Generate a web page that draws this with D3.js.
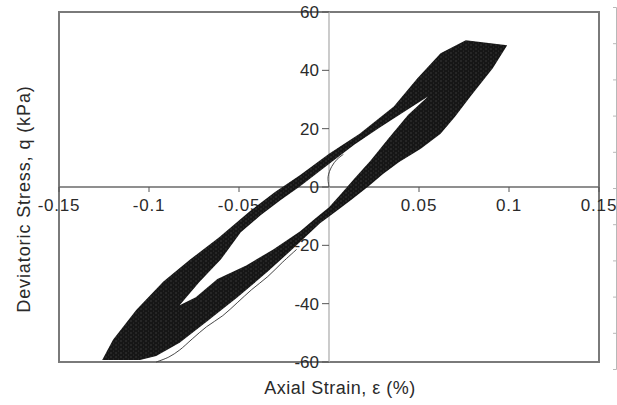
<!DOCTYPE html>
<html>
<head>
  <meta charset="UTF-8">
  <script src="https://d3js.org/d3.v7.min.js"></script>
  <style>
    body { margin: 0; background: #fff; }
    svg { display: block; }
    text { font-family: "Liberation Sans", Arial, sans-serif; fill: #2a2a2a; }
  </style>
</head>
<body>
  <svg width="617" height="405"></svg>
  <script>
    // tick values and labels
    const xTicks = [-0.15, -0.1, -0.05, 0.05, 0.1, 0.15];
    const xTickLabels = ["-0.15", "-0.1", "-0.05", "0.05", "0.1", "0.15"];
    const yTicks = [-60, -40, -20, 0, 20, 40, 60];
    const yTickLabels = ["-60", "-40", "-20", "0", "20", "40", "60"];

    // outer envelope of all cycles [strain %, q kPa]
    const envelopeOuter = [
      [-0.126, -59.3], [-0.120, -52.4], [-0.107, -42.1], [-0.092, -32.4],
      [-0.077, -24.8], [-0.061, -17.2], [-0.044, -8.3], [-0.030, -1.7],
      [-0.016, 4.1], [0.0, 11.4], [0.017, 18.3], [0.036, 27.6],
      [0.049, 37.2], [0.062, 45.9], [0.076, 50.3], [0.099, 48.6],
      [0.091, 40.7], [0.079, 31.4], [0.070, 24.1], [0.062, 18.3],
      [0.051, 13.1], [0.039, 8.6], [0.030, 4.5], [0.022, 0.3],
      [0.013, -4.1], [0.004, -8.3], [-0.005, -12.4], [-0.018, -20.0],
      [-0.034, -29.0], [-0.051, -37.9], [-0.068, -46.2], [-0.083, -53.4],
      [-0.096, -57.9], [-0.105, -59.3]
    ];

    // white lens inside the loops (unloading inner edge, then loading inner edge)
    const envelopeHole = [
      [0.055, 31.0], [0.042, 25.9], [0.028, 20.3], [0.014, 14.5],
      [0.0, 7.9], [-0.016, 0.3], [-0.027, -4.5], [-0.038, -9.7],
      [-0.049, -15.5], [-0.060, -24.8], [-0.072, -32.6], [-0.083, -40.5],
      [-0.074, -37.8], [-0.062, -31.5], [-0.046, -26.9], [-0.031, -21.4],
      [-0.016, -15.2], [-0.008, -11.0], [0.0, -6.9], [0.007, -2.1],
      [0.014, 2.8], [0.023, 9.0], [0.033, 16.6], [0.044, 24.8]
    ];

    // first loading from rest
    const firstLoading = [
      [0.0, 0.0], [-0.0005, 3.5], [0.0015, 7.0], [0.0045, 9.5], [0.008, 11.2]
    ];

    // first cycle reloading branch, just outside the band
    const firstReload = [
      [-0.018, -21.4], [-0.026, -25.9], [-0.034, -30.7], [-0.043, -35.2],
      [-0.051, -39.7], [-0.059, -44.1], [-0.068, -47.9], [-0.076, -52.1],
      [-0.083, -55.9], [-0.089, -58.3], [-0.096, -60.0]
    ];

    const svg = d3.select("svg");

    const x = d3.scaleLinear().domain([-0.15, 0.15]).range([59, 599]);
    const y = d3.scaleLinear().domain([-60, 60]).range([362, 12]);

    // speckle texture for the overlapping loops
    const defs = svg.append("defs");
    const pat = defs.append("pattern")
      .attr("id", "speckle").attr("patternUnits", "userSpaceOnUse")
      .attr("width", 5).attr("height", 4);
    pat.append("rect").attr("width", 5).attr("height", 4).attr("fill", "#141414");
    pat.append("circle").attr("cx", 1).attr("cy", 1).attr("r", 0.7)
      .attr("fill", "#fff").attr("opacity", 0.22);
    pat.append("circle").attr("cx", 3.5).attr("cy", 3).attr("r", 0.6)
      .attr("fill", "#fff").attr("opacity", 0.15);
    defs.append("filter").attr("id", "soft")
      .append("feGaussianBlur").attr("stdDeviation", 0.45);

    // plot frame
    svg.append("rect")
      .attr("x", x(-0.15)).attr("y", y(60))
      .attr("width", x(0.15) - x(-0.15)).attr("height", y(-60) - y(60))
      .attr("fill", "none").attr("stroke", "#7a7a7a").attr("stroke-width", 2);

    // axes through origin
    svg.append("line")
      .attr("x1", x(-0.15)).attr("x2", x(0.15))
      .attr("y1", y(0)).attr("y2", y(0))
      .attr("stroke", "#6a6a6a").attr("stroke-width", 1.3);
    svg.append("line")
      .attr("x1", x(0)).attr("x2", x(0))
      .attr("y1", y(60)).attr("y2", y(-60))
      .attr("stroke", "#b0b0b0").attr("stroke-width", 1.3);

    // x ticks + labels
    svg.selectAll(".xt").data(xTicks).enter().append("line")
      .attr("x1", d => x(d)).attr("x2", d => x(d))
      .attr("y1", y(0)).attr("y2", y(0) + 5)
      .attr("stroke", "#555");
    svg.selectAll(".xl").data(xTicks).enter().append("text")
      .attr("x", d => x(d)).attr("y", y(0) + 24)
      .attr("text-anchor", "middle")
      .attr("font-size", 17)
      .attr("letter-spacing", 0.8)
      .text((d, i) => xTickLabels[i]);

    // y ticks + labels
    svg.selectAll(".yt").data(yTicks).enter().append("line")
      .attr("x1", x(0) - 7).attr("x2", x(0))
      .attr("y1", d => y(d)).attr("y2", d => y(d))
      .attr("stroke", "#555");
    svg.selectAll(".yl").data(yTicks).enter().append("text")
      .attr("x", x(0) - 10).attr("y", d => y(d) + 6)
      .attr("text-anchor", "end")
      .attr("font-size", 17)
      .text((d, i) => yTickLabels[i]);

    // hysteresis band: outer envelope minus inner lens
    const toPath = pts => "M" + pts.map(p => x(p[0]) + "," + y(p[1])).join("L") + "Z";
    svg.append("path")
      .attr("d", toPath(envelopeOuter) + toPath(envelopeHole))
      .attr("fill", "url(#speckle)")
      .attr("fill-rule", "evenodd")
      .attr("filter", "url(#soft)");

    const line = d3.line().x(d => x(d[0])).y(d => y(d[1])).curve(d3.curveCatmullRom);
    [firstLoading, firstReload].forEach(s => {
      svg.append("path").attr("d", line(s))
        .attr("fill", "none").attr("stroke", "#333").attr("stroke-width", 0.9);
    });

    // axis titles
    svg.append("text")
      .attr("x", 340).attr("y", 394)
      .attr("text-anchor", "middle").attr("font-size", 18)
      .attr("letter-spacing", 0.5)
      .text("Axial Strain, ε  (%)");
    svg.append("text")
      .attr("transform", "translate(30,199) rotate(-90)")
      .attr("text-anchor", "middle").attr("font-size", 18)
      .attr("letter-spacing", 0.9)
      .text("Deviatoric Stress, q (kPa)");

    // faint axis of neighbouring figure at right edge
    const edge = d3.scaleLinear().domain([0, 10]).range([7, 369]);
    const edgeAxis = svg.append("g")
      .attr("transform", "translate(616,0)")
      .call(d3.axisLeft(edge).tickValues(d3.range(0, 11)).tickSize(3).tickFormat(""));
    edgeAxis.selectAll("line, path").attr("stroke", "#b8b8b8");
  </script>
</body>
</html>
